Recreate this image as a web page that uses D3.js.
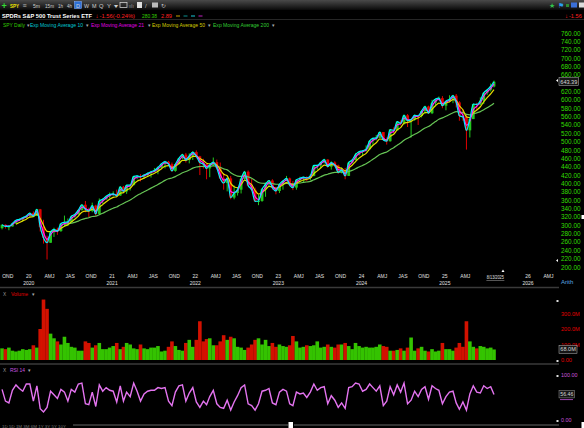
<!DOCTYPE html>
<html>
<head>
<meta charset="utf-8">
<script src="https://cdn.jsdelivr.net/npm/d3@7"></script>
<style>
body { margin: 0; background: #000; }
svg { display: block; font-family: "Liberation Sans", Arial, sans-serif; }
</style>
</head>
<body>
<div id="chart"></div>
<script>
// half-month candles, Sep 2019 .. 13 Aug 2025
var firstOpen = 293;
var closes = [
  301,297,297,304,312,314,318,322,
  329,322,338,296,270,258,283,290,286,304,307,308,321,326,336,349,338,334,347,327,358,362,369,374,
  375,371,392,381,396,396,417,418,416,420,424,428,431,438,447,452,446,430,446,460,469,456,466,475,
  465,450,446,436,444,451,437,412,401,412,366,377,385,411,428,395,385,357,358,386,398,407,390,382,
  398,406,412,396,390,409,412,415,413,418,443,443,450,457,440,450,443,427,432,418,450,456,469,476,
  478,482,502,508,509,523,504,501,529,527,548,544,563,550,553,563,562,573,584,568,593,602,604,586,
  597,601,610,594,562,559,527,554,590,589,598,617,624,632,643.39
];
var highs = [
  302,302,300,305,312,316,319,323,
  330,333,339,339,313,275,287,294,294,304,323,316,323,327,338,350,358,342,354,349,364,364,371,378,
  381,385,393,394,397,398,418,420,422,422,426,430,437,441,448,454,454,450,447,461,471,473,472,477,
  479,466,459,447,444,462,457,450,425,416,418,395,390,412,430,431,411,390,373,389,402,408,410,390,
  399,408,418,414,406,409,416,416,417,422,444,445,452,459,458,453,453,445,438,437,452,458,473,477,
  480,491,503,510,516,524,523,510,530,534,549,551,565,566,554,565,564,575,586,586,600,603,608,609,
  598,611,612,614,597,577,566,555,591,593,606,618,626,639,646
];
var lows = [
  290,292,288,297,304,310,309,317,
  320,321,322,285,256,218,258,272,277,284,297,298,306,318,326,335,331,319,331,322,327,352,361,364,
  369,369,370,380,375,383,395,410,405,411,418,414,428,422,437,436,444,428,428,446,458,450,448,456,
  460,420,436,410,415,442,434,411,385,381,362,362,371,376,409,393,382,357,348,356,368,392,385,374,
  377,385,405,393,384,385,404,403,405,408,417,433,437,448,438,433,439,423,424,410,418,448,455,467,
  466,476,481,493,503,508,503,493,500,521,527,539,541,535,510,550,540,558,566,567,566,586,599,580,
  575,594,592,582,550,550,481,510,554,575,587,590,612,620,630
];
// volume, millions
var volumes = [
  75,70,80,60,55,60,70,65,
  70,95,80,200,390,330,170,140,120,100,150,110,85,80,60,60,120,110,80,95,110,70,70,80,
  90,110,70,85,110,100,75,70,100,75,70,80,80,90,55,60,85,120,90,65,60,110,130,85,
  130,250,120,135,140,95,95,120,160,130,150,140,85,80,65,80,100,130,140,100,130,90,110,85,
  100,90,85,95,155,120,80,85,95,90,95,120,80,85,100,85,80,100,100,110,90,70,110,90,
  80,85,80,80,85,100,90,85,60,60,65,75,60,80,145,60,75,85,60,55,70,55,60,110,
  70,70,60,80,110,85,250,120,85,75,90,85,75,80,68
];
var rsiValues = [
  68,42,38,66,78,70,64,80,
  80,42,76,25,18,28,64,56,48,68,62,42,68,62,80,82,36,34,62,30,78,64,72,66,
  64,40,76,42,62,52,82,64,42,58,64,66,66,72,70,72,42,32,62,76,78,42,60,72,
  40,28,42,34,52,66,36,28,26,44,22,40,54,72,78,36,32,22,36,64,66,70,38,34,
  62,68,64,36,32,62,58,60,50,62,80,66,72,74,36,54,44,28,38,26,72,74,82,80,
  64,68,80,72,64,76,32,42,74,56,78,62,82,36,44,64,52,68,74,46,76,70,66,36,
  52,62,64,38,24,40,22,58,76,62,60,76,70,74,56.46
];

var emaDays = [200, 50, 21, 10];
var emaColors = {10: "#00f0ff", 21: "#ff20ff", 50: "#e6dc00", 200: "#66c455"};
var priceTicks = d3.range(200, 761, 20);
var volumeTicks = [0, 100, 200, 300];
var rsiTicks = [0, 100];
var quarterNames = ["", "AMJ", "JAS", "OND"];
var lastDate = new Date(2025, 7, 13);

// build the half-month periods
var data = closes.map(function(c, i) {
  var m = 8 + Math.floor(i / 2);
  var start = new Date(2019, m, i % 2 ? 16 : 1);
  var end = i % 2 ? new Date(2019, m + 1, 0) : new Date(2019, m, 15);
  if (i === closes.length - 1) end = lastDate;
  return {
    date: new Date((+start + +end) / 2),
    open: i ? closes[i - 1] : firstOpen,
    close: c, high: highs[i], low: lows[i],
    volume: volumes[i], rsi: rsiValues[i]
  };
});

// exponential moving average, days converted to half-month periods
function ema(days) {
  var n = days / 10.5;
  var k = Math.max(1, Math.round(n));
  var a = Math.min(1, 2 / (n + 1));
  var out = [], prev;
  data.forEach(function(d, i) {
    if (i < k - 1) return;
    if (i === k - 1) prev = d3.mean(data.slice(0, k), function(e) { return e.close; });
    else prev = prev + a * (d.close - prev);
    out.push({date: d.date, value: prev});
  });
  return out;
}

var width = 584, height = 428;
var x = d3.scaleTime().domain([new Date(2019, 7, 30), new Date(2026, 4, 15)]).range([0, 558]);
var y = d3.scaleLinear().domain([200, 760]).range([267, 33]);
var yVol = d3.scaleLinear().domain([0, 300]).range([360, 313.5]);
var yRsi = d3.scaleLinear().domain([0, 100]).range([420, 375]);

var svg = d3.select("#chart").append("svg")
    .attr("width", width)
    .attr("height", height);

svg.append("rect").attr("width", width).attr("height", height).attr("fill", "#000");

function txt(px, py, s, color, size, opts) {
  opts = opts || {};
  var t = svg.append("text")
      .attr("x", px).attr("y", py)
      .attr("fill", color)
      .style("font-size", size + "px")
      .text(s);
  if (opts.bold) t.style("font-weight", "bold");
  if (opts.len) t.attr("textLength", opts.len).attr("lengthAdjust", "spacingAndGlyphs");
  if (opts.anchor) t.attr("text-anchor", opts.anchor);
  return t;
}

// ---- header ----
var grad = svg.append("defs").append("linearGradient")
    .attr("id", "hdr").attr("x1", 0).attr("y1", 0).attr("x2", 0).attr("y2", 1);
grad.append("stop").attr("offset", "0%").attr("stop-color", "#4a4a4a");
grad.append("stop").attr("offset", "100%").attr("stop-color", "#0a0a0a");
svg.append("rect").attr("width", width).attr("height", 10).attr("fill", "url(#hdr)");

txt(1.5, 9, "+", "#33dd33", 9, {bold: true});
txt(10, 8, "SPY", "#f2e400", 6, {bold: true, len: 9});
txt(22.5, 8, "≡", "#bbb", 7);
svg.append("rect").attr("x", 74.5).attr("y", 1.5).attr("width", 7).attr("height", 7)
    .attr("fill", "#2c6fd6").attr("stroke", "#8ab4ff").attr("stroke-width", 0.5);
[["5m", 33, 7], ["15m", 45, 9], ["1h", 58, 5], ["4h", 67, 5], ["D", 76, 4], ["W", 84, 5],
 ["M", 92, 4.5], ["Q", 99, 4.5], ["Y", 107, 4], ["▾", 113.5, 4]].forEach(function(b) {
  txt(b[1], 7.8, b[0], "#d0d0d0", 5.5, {len: b[2]});
});
svg.append("rect").attr("x", 120).attr("y", 2.5).attr("width", 7).attr("height", 5)
    .attr("fill", "none").attr("stroke", "#ccc").attr("stroke-width", 0.8);
txt(128.5, 7.8, "ıılı", "#999", 5);
svg.append("rect").attr("x", 137).attr("y", 2).attr("width", 5).attr("height", 6).attr("fill", "#ddd");
txt(145, 8, "/", "#bbb", 6);
svg.append("rect").attr("x", 152).attr("y", 2.5).attr("width", 6).attr("height", 5).attr("fill", "#bbb");
txt(161, 8, "↻", "#bbb", 6);

txt(549, 8, "★", "#33c24d", 6.5);
txt(558, 8, "⚑", "#2a9df4", 6.5);
svg.append("rect").attr("x", 566).attr("y", 4).attr("width", 3).attr("height", 3).attr("fill", "#2e8b2e");
svg.append("rect").attr("x", 571).attr("y", 2.5).attr("width", 6).attr("height", 5).attr("fill", "#3a6fd8");
svg.append("rect").attr("x", 579).attr("y", 2.5).attr("width", 5).attr("height", 5).attr("fill", "#ddd");

txt(2, 17.5, "SPDRs S&P 500 Trust Series ETF", "#ffffff", 6, {bold: true, len: 90});
txt(95.5, 17.5, "↓", "#ff1a1a", 6, {bold: true});
txt(99.5, 17.5, "-1.56(-0.24%)", "#ff2020", 5.6, {len: 35.5});
txt(142, 17.5, "280.38", "#33cc00", 5.6, {len: 15});
txt(161, 17.5, "2.89", "#ff2020", 5.6, {len: 11});
["#c8a000", "#0b8f8f", "#18c8d8", "#c020c0"].forEach(function(c, i) {
  svg.append("line").attr("x1", 176 + i * 7.5).attr("x2", 180 + i * 7.5)
      .attr("y1", 16).attr("y2", 16).attr("stroke", c).attr("stroke-width", 1);
});
txt(565, 17.5, "↓", "#ff1a1a", 6, {bold: true});
txt(569, 17.5, "-1.56", "#ff2020", 5.6);

svg.append("line").attr("x1", 0).attr("x2", width).attr("y1", 19.5).attr("y2", 19.5)
    .attr("stroke", "#262626").attr("stroke-width", 1);

// legend row
[["SPY Daily", 3, 22, "#33cc00", 27],
 ["Exp Moving Average 10", 30, 53, "#00c8d4", 86],
 ["Exp Moving Average 21", 91, 53, "#e000e0", 148],
 ["Exp Moving Average 50", 152, 53, "#d4cc00", 208],
 ["Exp Moving Average 200", 213, 56, "#33cc33", 272]].forEach(function(l) {
  txt(l[1], 26.5, l[0], l[3], 5.4, {len: l[2]});
  txt(l[4], 26.5, "▾", "#aaa", 4.5);
});

// ---- price panel ----
var candleW = 2.8;
var candles = svg.append("g");
candles.selectAll("line.wick").data(data).enter().append("line")
    .attr("class", "wick")
    .attr("x1", function(d) { return x(d.date); })
    .attr("x2", function(d) { return x(d.date); })
    .attr("y1", function(d) { return y(d.high); })
    .attr("y2", function(d) { return y(d.low); })
    .attr("stroke", function(d) { return d.close >= d.open ? "#22c81e" : "#e00000"; })
    .attr("stroke-width", 1);
candles.selectAll("rect").data(data).enter().append("rect")
    .attr("x", function(d) { return x(d.date) - candleW / 2; })
    .attr("width", candleW)
    .attr("y", function(d) { return y(Math.max(d.open, d.close)); })
    .attr("height", function(d) { return Math.max(1, Math.abs(y(d.open) - y(d.close))); })
    .attr("fill", function(d) { return d.close >= d.open ? "#22c81e" : "#e00000"; });

var valueline = d3.line()
    .x(function(d) { return x(d.date); })
    .y(function(d) { return y(d.value); })
    .curve(d3.curveMonotoneX);

emaDays.forEach(function(n) {
  svg.append("path")
      .datum(ema(n))
      .attr("fill", "none")
      .attr("stroke", emaColors[n])
      .attr("stroke-width", 1.2)
      .attr("d", valueline);
});

// price axis
var lastClose = closes[closes.length - 1];
var yAxis = svg.append("g")
    .attr("transform", "translate(559,0)")
    .call(d3.axisRight(y)
      .tickValues(priceTicks.filter(function(t) { return Math.abs(t - lastClose) > 8; }))
      .tickFormat(d3.format(".2f"))
      .tickSize(0).tickPadding(2));
yAxis.select(".domain").remove();
yAxis.selectAll("text").attr("fill", "#33dd00").style("font-size", "6.4px").attr("font-family", "Liberation Sans, Arial");

svg.append("rect").attr("x", 559).attr("y", y(lastClose) - 4).attr("width", 19.5).attr("height", 8)
    .attr("fill", "#151515").attr("stroke", "#bbb").attr("stroke-width", 0.5);
txt(560.3, y(lastClose) + 2.2, "643.39", "#d8d8d8", 5.8, {len: 17});
svg.append("path").attr("d", "M558,79 L556,80.5 L558,82 Z").attr("fill", "#fff");
svg.append("path").attr("d", "M558,259 L556,260.5 L558,262 Z").attr("fill", "#fff");
svg.append("rect").attr("x", 581.5).attr("y", 215).attr("width", 2.5).attr("height", 4).attr("fill", "#fff");

// time axis
var quarterTicks = d3.timeMonth.every(3).range(new Date(2019, 9, 1), new Date(2026, 6, 1))
    .filter(function(d) { return !(d.getFullYear() === 2025 && d.getMonth() > 3); });
var xAxis = svg.append("g")
    .attr("transform", "translate(0,274)")
    .call(d3.axisBottom(x)
      .tickValues(quarterTicks)
      .tickFormat(function(d) {
        var m = d.getMonth();
        return m === 0 ? String(d.getFullYear()).slice(2) : quarterNames[m / 3];
      })
      .tickSize(0).tickPadding(0));
xAxis.select(".domain").remove();
xAxis.selectAll("text").attr("fill", "#e0e0e0").style("font-size", "5px").attr("font-family", "Liberation Sans, Arial");

var yearAxis = svg.append("g")
    .attr("transform", "translate(0,281)")
    .call(d3.axisBottom(x)
      .tickValues(d3.timeYear.range(new Date(2020, 0, 1), new Date(2026, 1, 1)))
      .tickFormat(d3.timeFormat("%Y"))
      .tickSize(0).tickPadding(0));
yearAxis.select(".domain").remove();
yearAxis.selectAll("text").attr("fill", "#e0e0e0").style("font-size", "5px").attr("font-family", "Liberation Sans, Arial");

txt(x(lastDate), 279, "8/13/2025", "#e0e0e0", 5, {anchor: "middle", len: 17});
svg.append("line").attr("x1", x(lastDate) - 9).attr("x2", x(lastDate) + 9)
    .attr("y1", 280.5).attr("y2", 280.5).attr("stroke", "#aaa").attr("stroke-width", 0.5);
svg.append("path").attr("d", "M501.5,272 L503,269.5 L504.5,272 Z").attr("fill", "#fff");
txt(561, 283.5, "Arith", "#5ba8e0", 6);

svg.append("line").attr("x1", 0).attr("x2", 559).attr("y1", 287.5).attr("y2", 287.5)
    .attr("stroke", "#3a3a3a").attr("stroke-width", 1.5);

// ---- volume panel ----
txt(3, 295.5, "X", "#999", 4.8);
txt(11, 295.5, "Volume", "#e00000", 5.3, {len: 17});
txt(32, 295.5, "▾", "#aaa", 4.5);

var barW = 3.6;
svg.append("g").selectAll("rect").data(data).enter().append("rect")
    .attr("x", function(d) { return x(d.date) - barW / 2; })
    .attr("width", barW)
    .attr("y", function(d) { return yVol(d.volume); })
    .attr("height", function(d) { return yVol(0) - yVol(d.volume); })
    .attr("fill", function(d) { return d.close >= d.open ? "#38d400" : "#e41200"; })
    .attr("opacity", 0.92);

var volAxis = svg.append("g")
    .attr("transform", "translate(559,0)")
    .call(d3.axisRight(yVol)
      .tickValues(volumeTicks)
      .tickFormat(function(d) { return d ? d.toFixed(1) + "M" : "0.00"; })
      .tickSize(0).tickPadding(2));
volAxis.select(".domain").remove();
volAxis.selectAll("text").attr("fill", "#e00000").style("font-size", "5.6px").attr("font-family", "Liberation Sans, Arial");

var lastVol = volumes[volumes.length - 1];
svg.append("rect").attr("x", 559).attr("y", yVol(lastVol) - 4.2).attr("width", 18).attr("height", 8)
    .attr("fill", "#151515").attr("stroke", "#bbb").attr("stroke-width", 0.5);
txt(560.3, yVol(lastVol) + 2, lastVol.toFixed(1) + "M", "#d8d8d8", 5.6, {len: 15.5});
svg.append("rect").attr("x", 556.5).attr("y", 300).attr("width", 2).attr("height", 2).attr("fill", "#ddd");
svg.append("rect").attr("x", 556.5).attr("y", 360).attr("width", 2).attr("height", 2).attr("fill", "#ddd");

svg.append("line").attr("x1", 0).attr("x2", 559).attr("y1", 364).attr("y2", 364)
    .attr("stroke", "#3a3a3a").attr("stroke-width", 1.5);

// ---- RSI panel ----
txt(3, 371.5, "X", "#999", 4.8);
txt(10, 371.5, "RSI 14", "#c858e0", 5.3, {len: 15});
txt(28, 371.5, "▾", "#aaa", 4.5);

var rsiLine = d3.line()
    .x(function(d) { return x(d.date); })
    .y(function(d) { return yRsi(d.rsi); });
svg.append("path")
    .datum(data)
    .attr("fill", "none")
    .attr("stroke", "#e474f0")
    .attr("stroke-width", 1.4)
    .attr("d", rsiLine);

var rsiAxis = svg.append("g")
    .attr("transform", "translate(559,0)")
    .call(d3.axisRight(yRsi)
      .tickValues(rsiTicks)
      .tickFormat(d3.format(".2f"))
      .tickSize(0).tickPadding(2));
rsiAxis.select(".domain").remove();
rsiAxis.selectAll("text").attr("fill", "#cc55dd").style("font-size", "5.4px").attr("font-family", "Liberation Sans, Arial");

var lastRsi = rsiValues[rsiValues.length - 1];
svg.append("rect").attr("x", 559).attr("y", yRsi(lastRsi) - 4.2).attr("width", 15.5).attr("height", 7.5)
    .attr("fill", "#151515").attr("stroke", "#999").attr("stroke-width", 0.5);
txt(560.3, yRsi(lastRsi) + 1.8, lastRsi.toFixed(2), "#d8d8d8", 5.4, {len: 13});
svg.append("line").attr("x1", 560).attr("x2", 573).attr("y1", yRsi(lastRsi) + 5).attr("y2", yRsi(lastRsi) + 5)
    .attr("stroke", "#c858e0").attr("stroke-width", 0.8);
svg.append("rect").attr("x", 556.5).attr("y", 375).attr("width", 2).attr("height", 2).attr("fill", "#ddd");
svg.append("rect").attr("x", 556.5).attr("y", 420).attr("width", 2).attr("height", 2).attr("fill", "#ddd");

// bottom strip
txt(2, 427.5, "1D 5D 1M 3M 6M 1Y 3Y 5Y 10Y", "#777", 4, {len: 64});
svg.append("line").attr("x1", 73).attr("x2", 288).attr("y1", 425).attr("y2", 425)
    .attr("stroke", "#666").attr("stroke-width", 1);
svg.append("line").attr("x1", 294).attr("x2", 559).attr("y1", 425).attr("y2", 425)
    .attr("stroke", "#666").attr("stroke-width", 1);
svg.append("rect").attr("x", 288.5).attr("y", 422).attr("width", 4.5).attr("height", 6).attr("fill", "#fff");
svg.append("rect").attr("x", 581.5).attr("y", 422).attr("width", 2.5).attr("height", 6).attr("fill", "#fff");
</script>
</body>
</html>
